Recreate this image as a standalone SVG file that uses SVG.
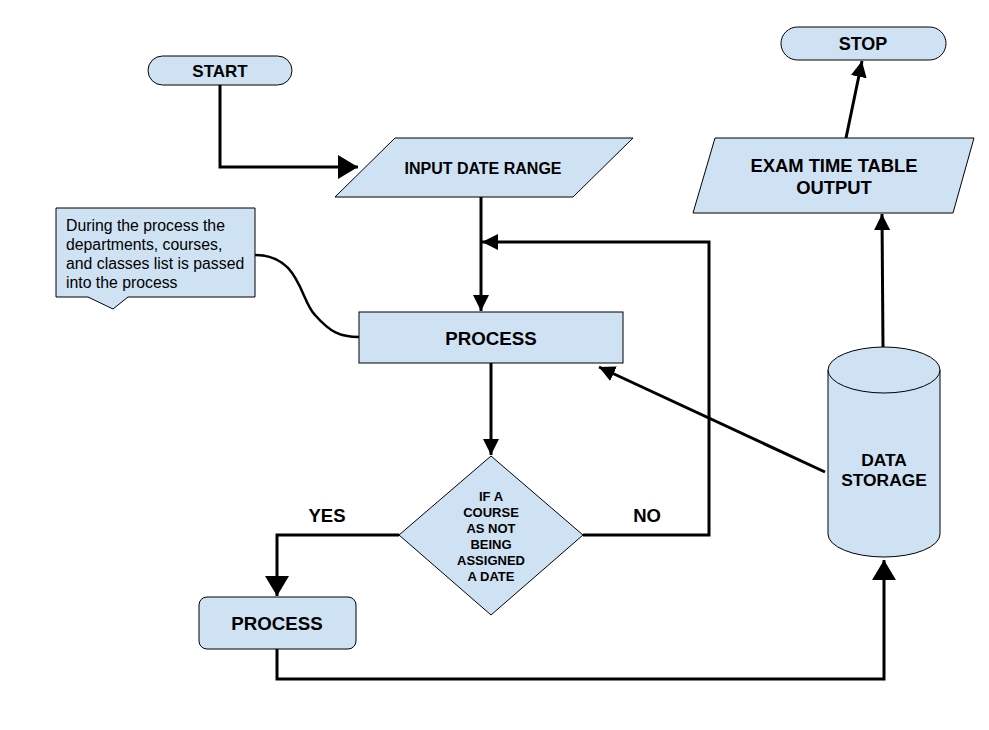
<svg xmlns="http://www.w3.org/2000/svg" width="989" height="730" viewBox="0 0 989 730">
<defs>
<style>
.s{fill:#cfe2f3;stroke:#000;stroke-width:1}
.c{fill:none;stroke:#000;stroke-width:3}
.t{font-family:"Liberation Sans",Arial,sans-serif;font-weight:bold;fill:#000;text-anchor:middle}
.n{font-family:"Liberation Sans",Arial,sans-serif;font-size:15.8px;fill:#000}
</style>
<marker id="big" markerUnits="userSpaceOnUse" markerWidth="22" markerHeight="24" refX="20" refY="12" orient="auto">
<path d="M0,0 L20,12 L0,24 Z" fill="#000"/>
</marker>
<marker id="sm" markerUnits="userSpaceOnUse" markerWidth="18" markerHeight="16" refX="16" refY="8" orient="auto">
<path d="M0,0 L16,8 L0,16 Z" fill="#000"/>
</marker>
</defs>
<rect width="989" height="730" fill="#fff"/>
<g id="connectors">
<path class="c" d="M220,85 V167 H358" marker-end="url(#big)"/>
<path class="c" d="M481,197 V311" marker-end="url(#sm)"/>
<path class="c" d="M583,535 H709 V242 H482" marker-end="url(#sm)"/>
<path class="c" d="M491,363 V455" marker-end="url(#sm)"/>
<path class="c" d="M399,535 H277 V596" marker-end="url(#big)"/>
<path class="c" d="M277,649 V679 H884 V560" marker-end="url(#big)"/>
<path class="c" d="M825,472 L599,367" marker-end="url(#sm)"/>
<path class="c" d="M883,347 L882,214" marker-end="url(#sm)"/>
<path class="c" d="M846,138 L862,61" marker-end="url(#sm)"/>
<path class="c" style="stroke-width:2.5" d="M255,255 C300,255 300,300 315,315 C330,332 340,337 359,337"/>
</g>
<g id="start">
<rect class="s" x="148" y="56" width="144" height="29" rx="14.5"/>
<text class="t" x="220" y="77" font-size="17">START</text>
</g>
<g id="input">
<polygon class="s" points="395,138 633,138 573,197 335,197"/>
<text class="t" x="483" y="174" font-size="16">INPUT DATE RANGE</text>
</g>
<g id="note">
<path class="s" d="M56,208 H255 V297 H128 L113,309 L88,297 H56 Z"/>
<text class="n" x="66" y="231">During the process the</text>
<text class="n" x="66" y="250">departments, courses,</text>
<text class="n" x="66" y="269">and classes list is passed</text>
<text class="n" x="66" y="288">into the process</text>
</g>
<g id="process1">
<rect class="s" x="359" y="312" width="264" height="51"/>
<text class="t" x="491" y="345" font-size="18.7">PROCESS</text>
</g>
<g id="decision">
<polygon class="s" points="491,456 583,535 491,615 399,535"/>
<g class="t" font-size="13">
<text x="491" y="501">IF A</text>
<text x="491" y="517">COURSE</text>
<text x="491" y="533">AS NOT</text>
<text x="491" y="549">BEING</text>
<text x="491" y="565">ASSIGNED</text>
<text x="491" y="581">A DATE</text>
</g>
</g>
<g id="labels">
<text class="t" x="327" y="522" font-size="18.5">YES</text>
<text class="t" x="647" y="522" font-size="18.5">NO</text>
</g>
<g id="process2">
<rect class="s" x="199" y="597" width="157" height="52" rx="8"/>
<text class="t" x="277" y="630" font-size="18.7">PROCESS</text>
</g>
<g id="storage">
<path class="s" d="M828,370 V534 A56,23 0 0 0 940,534 V370"/>
<ellipse class="s" cx="884" cy="370" rx="56" ry="23"/>
<text class="t" x="884" y="466" font-size="17.4">DATA</text>
<text class="t" x="884" y="486" font-size="17.4">STORAGE</text>
</g>
<g id="output">
<polygon class="s" points="715,138 974,138 953,213 693,213"/>
<text class="t" x="834" y="172" font-size="18.4">EXAM TIME TABLE</text>
<text class="t" x="834" y="194" font-size="18.4">OUTPUT</text>
</g>
<g id="stop">
<rect class="s" x="781" y="27" width="165" height="33" rx="16.5"/>
<text class="t" x="863" y="50" font-size="18">STOP</text>
</g>
</svg>
